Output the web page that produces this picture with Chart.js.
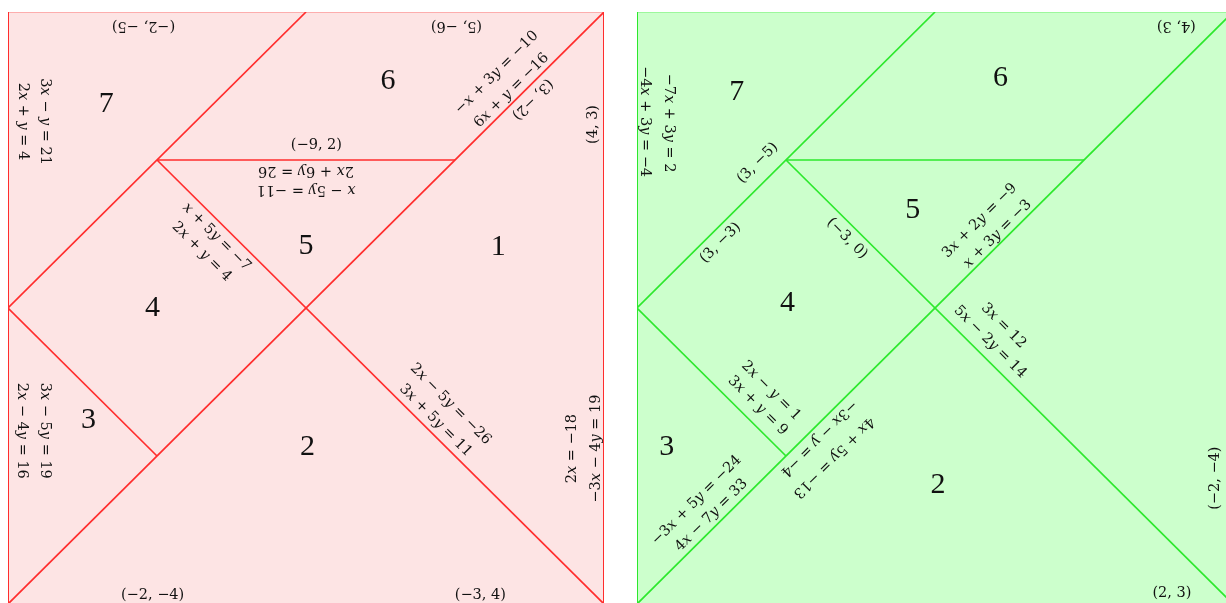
<!DOCTYPE html>
<html>
<head>
<meta charset="utf-8">
<script src="https://cdn.jsdelivr.net/npm/chart.js@4.4.1/dist/chart.umd.min.js"></script>
<style>
  html, body { margin: 0; padding: 0; background: #fff; overflow: hidden; width: 1226px; height: 603px; }
  canvas { position: absolute; top: 0; }
</style>
</head>
<body>
<canvas id="leftChart" width="620" height="620" style="left:0"></canvas>
<canvas id="rightChart" width="620" height="620" style="left:629px"></canvas>
<script>
// --- データ (タングラムの単位座標 0..4) ---

// 切り線 [x1, y1, x2, y2]
const cutLines = [[0, 0, 4, 4], [0, 2, 2, 4], [1, 3, 3, 3], [1, 3, 4, 0], [0, 2, 1, 1]];
// 外枠
const borderLines = [[0, 0, 0, 4], [4, 0, 4, 4], [0, 0, 4, 0]];
const topEdge = [0, 4, 4, 4];

// ピース番号 [ラベル, x, y]
const leftPieces = [['1', 3.29, 2.41], ['2', 2.01, 1.06], ['3', 0.54, 1.24], ['4', 0.97, 2.0],
                    ['5', 2.0, 2.42], ['6', 2.55, 3.53], ['7', 0.66, 3.38]];
const rightPieces = [['2', 2.02, 0.80], ['3', 0.20, 1.06], ['4', 1.01, 2.03],
                     ['5', 1.85, 2.66], ['6', 2.44, 3.55], ['7', 0.67, 3.46]];

// 式・座標ラベル [テキスト, x, y, 角度]
const leftTexts = [
    ['(−2, −5)', 0.91, 3.91, 180],
    ['(5, −6)', 3.01, 3.91, 180],
    ['3x − y = 21', 0.25, 3.26, 90],
    ['2x + y = 4', 0.10, 3.26, 90],
    ['−x + 3y = −10', 3.28, 3.59, -45],
    ['6x + y = −16', 3.38, 3.47, -45],
    ['(3, −2)', 3.52, 3.41, 135],
    ['(4, 3)', 3.93, 3.24, -90],
    ['(−9, 2)', 2.07, 3.10, 0],
    ['2x + 6y = 26', 2.0, 2.93, 180],
    ['x − 5y = −11', 2.0, 2.80, 180],
    ['x + 5y = −7', 1.40, 2.48, 45],
    ['2x + y = 4', 1.30, 2.38, 45],
    ['2x − 5y = −26', 2.97, 1.35, 45],
    ['3x + 5y = 11', 2.87, 1.24, 45],
    ['2x = −18', 3.79, 1.05, -90],
    ['−3x − 4y = 19', 3.95, 1.05, -90],
    ['3x − 5y = 19', 0.25, 1.17, 90],
    ['2x − 4y = 16', 0.09, 1.17, 90],
    ['(−2, −4)', 0.97, 0.06, 0],
    ['(−3, 4)', 3.17, 0.06, 0]
];
const rightTexts = [
    ['−7x + 3y = 2', 0.21, 3.25, 90],
    ['−4x + 3y = −4', 0.05, 3.26, 90],
    ['(3, −5)', 0.81, 2.98, -45],
    ['(3, −3)', 0.56, 2.44, -45],
    ['(−3, 0)', 1.41, 2.47, 45],
    ['(4, 3)', 3.62, 3.91, 180],
    ['3x + 2y = −9', 2.30, 2.59, -45],
    ['x + 3y = −3', 2.42, 2.50, -45],
    ['3x = 12', 2.46, 1.88, 45],
    ['5x − 2y = 14', 2.37, 1.77, 45],
    ['(−2, −4)', 3.88, 0.85, -90],
    ['(2, 3)', 3.59, 0.07, 0],
    ['2x − y = 1', 0.90, 1.44, 45],
    ['3x + y = 9', 0.81, 1.34, 45],
    ['−3x + 5y = −24', 0.40, 0.70, -45],
    ['4x − 7y = 33', 0.50, 0.60, -45],
    ['−3x − y = −4', 1.22, 1.12, 135],
    ['4x + 5y = −13', 1.32, 0.99, 135]
];

// --- 描画 ---

const TEXT_COLOR = '#111';

// x, y だけ斜体にして中央揃えで描く
function drawMath(ctx, str, size) {
    const runs = [];
    for (const ch of str) {
        const it = ch === 'x' || ch === 'y';
        const last = runs[runs.length - 1];
        if (last && last.it === it) last.s += ch;
        else runs.push({ s: ch, it: it });
    }
    let total = 0;
    runs.forEach(r => {
        ctx.font = (r.it ? 'italic ' : '') + size + 'px "DejaVu Serif"';
        r.w = ctx.measureText(r.s).width;
        total += r.w;
    });
    let cx = -total / 2;
    runs.forEach(r => {
        ctx.font = (r.it ? 'italic ' : '') + size + 'px "DejaVu Serif"';
        ctx.fillText(r.s, cx, 0);
        cx += r.w;
    });
}

function labelPlugin(pieces, texts) {
    return {
        id: 'tangramLabels',
        afterDatasetsDraw(chart) {
            const { ctx, scales: { x, y } } = chart;
            ctx.save();
            ctx.fillStyle = TEXT_COLOR;
            ctx.textBaseline = 'middle';
            ctx.textAlign = 'center';
            ctx.font = '30px "Liberation Serif"';
            pieces.forEach(p => {
                ctx.fillText(p[0], x.getPixelForValue(p[1]), y.getPixelForValue(p[2]));
            });
            ctx.textAlign = 'left';
            texts.forEach(t => {
                ctx.save();
                ctx.translate(x.getPixelForValue(t[1]), y.getPixelForValue(t[2]));
                ctx.rotate(t[3] * Math.PI / 180);
                drawMath(ctx, t[0], 14.5);
                ctx.restore();
            });
            ctx.restore();
        }
    };
}

function seg(s, color, width) {
    return {
        data: [{ x: s[0], y: s[1] }, { x: s[2], y: s[3] }],
        borderColor: color,
        borderWidth: width,
        pointRadius: 0,
        fill: false
    };
}

function makeTangram(canvasId, fillColor, lineColor, faintColor, pieces, texts) {
    const datasets = [];
    cutLines.forEach(s => datasets.push(seg(s, lineColor, 1.7)));
    borderLines.forEach(s => datasets.push(seg(s, lineColor, 2)));
    const top = seg(topEdge, faintColor, 2);
    top.fill = 'origin';
    top.backgroundColor = fillColor;
    datasets.push(top);

    new Chart(document.getElementById(canvasId), {
        type: 'line',
        data: { datasets: datasets },
        options: {
            responsive: false,
            animation: false,
            events: [],
            layout: { padding: { left: 8, top: 12, right: 16, bottom: 16 } },
            plugins: {
                legend: { display: false },
                tooltip: { enabled: false },
                filler: { drawTime: 'beforeDatasetsDraw' }
            },
            scales: {
                x: { type: 'linear', min: 0, max: 4, display: false },
                y: { type: 'linear', min: 0, max: 4, display: false }
            }
        },
        plugins: [labelPlugin(pieces, texts)]
    });
}

document.addEventListener('DOMContentLoaded', () => {
    makeTangram('leftChart', 'rgb(253, 228, 228)', 'rgb(255, 45, 45)', 'rgba(255, 45, 45, 0.3)', leftPieces, leftTexts);
    makeTangram('rightChart', 'rgb(204, 255, 204)', 'rgb(45, 232, 45)', 'rgba(45, 232, 45, 0.3)', rightPieces, rightTexts);
});
</script>
</body>
</html>
